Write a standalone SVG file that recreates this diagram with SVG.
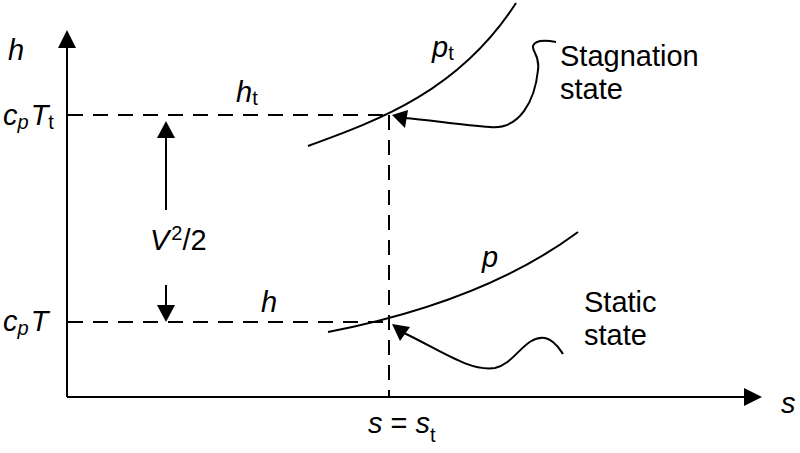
<svg xmlns="http://www.w3.org/2000/svg" width="800" height="453" viewBox="0 0 800 453">
<style>
.ln{stroke:#000;stroke-width:2;fill:none}
.dash{stroke:#000;stroke-width:2;fill:none;stroke-dasharray:15,10}
.ah{fill:#000;stroke:none}
text{font-family:"Liberation Sans",Arial,sans-serif;font-size:29px;fill:#000}
.it{font-style:italic}
.sub{font-size:20px}
</style>
<rect width="800" height="453" fill="#fff"/>
<g id="axes">
<line class="ln" x1="67" y1="45" x2="67" y2="397"/>
<polygon class="ah" points="67,30 58,48 76,48"/>
<line class="ln" x1="67" y1="397" x2="746" y2="397"/>
<polygon class="ah" points="762,397 744,388 744,406"/>
</g>
<g id="connectors">
<line class="dash" x1="68" y1="115" x2="389" y2="115"/>
<line class="dash" x1="68" y1="322" x2="389" y2="322"/>
<line class="dash" x1="389" y1="115" x2="389" y2="397"/>
<line class="ln" x1="166" y1="135" x2="166" y2="210"/>
<polygon class="ah" points="166,121 157,138 175,138"/>
<line class="ln" x1="166" y1="285" x2="166" y2="308"/>
<polygon class="ah" points="166,322 157,305 175,305"/>
<path class="ln" d="M556,42 C545,40 535,40 533,46 C532,52 540,55 538,70 C535,100 520,130 490,127 C460,125 430,120 404,118"/>
<polygon class="ah" points="392,115 408,110 405,128"/>
<path class="ln" d="M404,333 C440,350 470,372 495,368 C515,364 525,335 545,338 C555,340 560,350 563,354"/>
<polygon class="ah" points="392,324 410,327 400,341"/>
</g>
<g id="curve-pt">
<path class="ln" d="M308,146 C380,120 460,90 516,3"/>
</g>
<g id="curve-p">
<path class="ln" d="M328,332 C400,318 500,290 578,232"/>
</g>
<g id="labels">
<text class="it" x="8" y="60">h</text>
<text x="3" y="125"><tspan class="it">c</tspan><tspan class="it sub" dy="4">p</tspan><tspan class="it" dy="-4" dx="2">T</tspan><tspan class="sub" dy="4">t</tspan></text>
<text x="3" y="331"><tspan class="it">c</tspan><tspan class="it sub" dy="4">p</tspan><tspan class="it" dy="-4" dx="2">T</tspan></text>
<text x="150" y="250"><tspan class="it">V</tspan><tspan class="sub" dy="-10" dx="2">2</tspan><tspan dy="10">/2</tspan></text>
<text x="236" y="102"><tspan class="it">h</tspan><tspan class="sub" dy="3">t</tspan></text>
<text class="it" x="261" y="312">h</text>
<text x="432" y="57"><tspan class="it">p</tspan><tspan class="sub" dy="3">t</tspan></text>
<text class="it" x="482" y="267">p</text>
<text class="it" x="781" y="413">s</text>
<text x="368" y="433"><tspan class="it">s</tspan> = <tspan class="it">s</tspan><tspan class="sub" dy="9">t</tspan></text>
<text x="560" y="66">Stagnation</text>
<text x="560" y="99">state</text>
<text x="584" y="312">Static</text>
<text x="584" y="345">state</text>
</g>
</svg>
